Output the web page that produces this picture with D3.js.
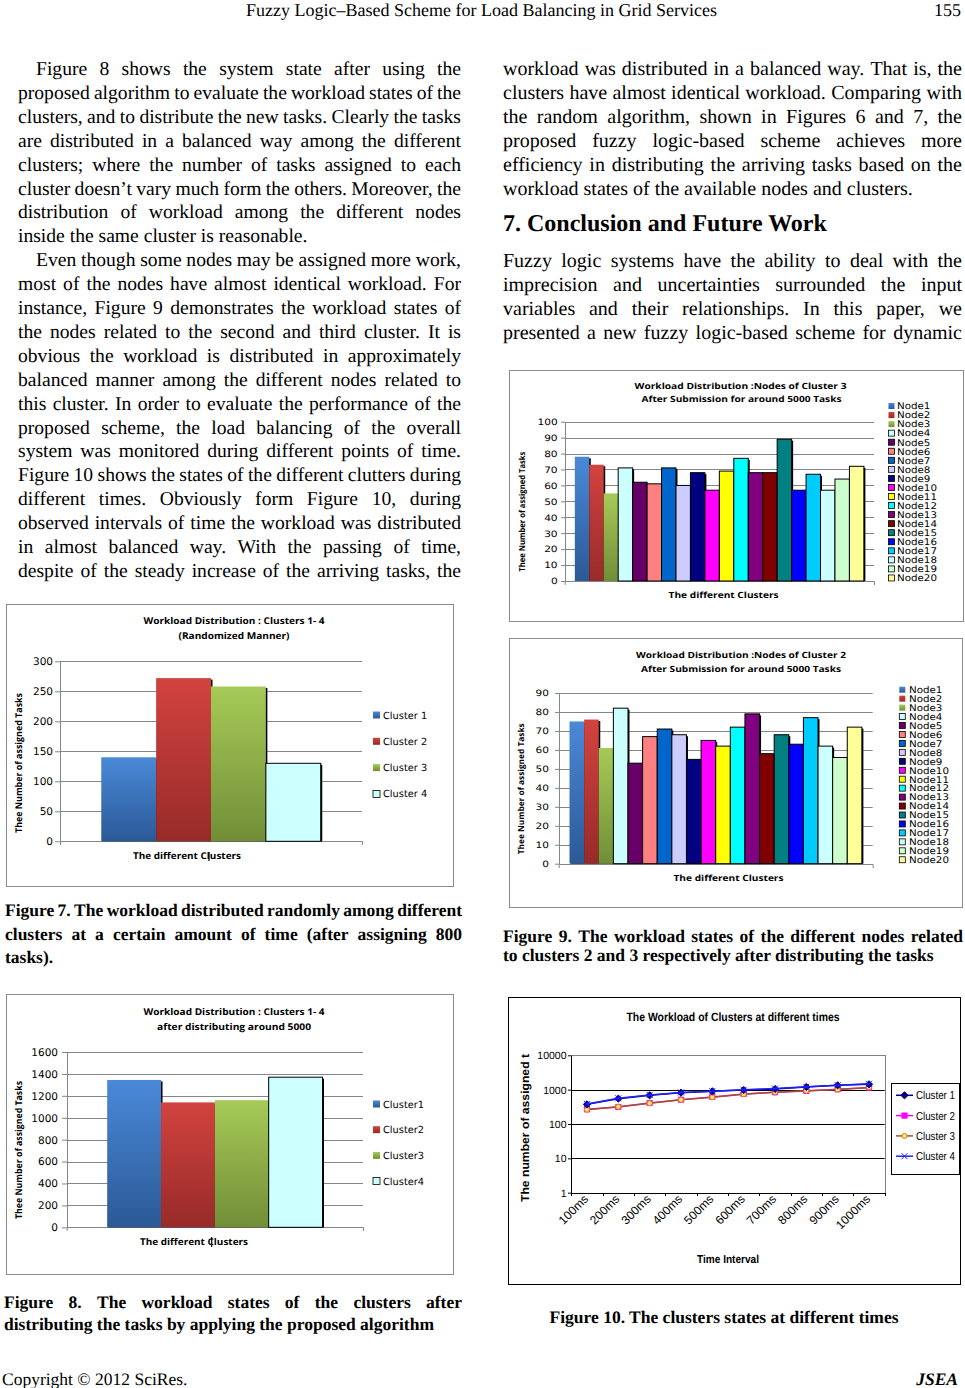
<!DOCTYPE html>
<html><head><meta charset="utf-8">
<script src="https://cdn.jsdelivr.net/npm/d3@7"></script>
<style>body{margin:0;background:#fff;} svg{display:block;}</style>
</head><body>
<script>
// ---------------- DATA ----------------
const fig7Series = ["Cluster 1", "Cluster 2", "Cluster 3", "Cluster 4"];
const fig7Values = [140, 272, 258, 130];
const fig7Ticks = [0, 50, 100, 150, 200, 250, 300];

const fig8Series = ["Cluster1", "Cluster2", "Cluster3", "Cluster4"];
const fig8Values = [1345, 1140, 1160, 1370];
const fig8Ticks = [0, 200, 400, 600, 800, 1000, 1200, 1400, 1600];

const nodeNames = ["Node1","Node2","Node3","Node4","Node5","Node6","Node7","Node8","Node9","Node10",
                   "Node11","Node12","Node13","Node14","Node15","Node16","Node17","Node18","Node19","Node20"];
const cluster3Values = [78, 73, 55, 71, 62, 61, 71, 60, 68, 57, 69, 77, 68, 68, 89, 57, 67, 57, 64, 72];
const cluster3Ticks = [0, 10, 20, 30, 40, 50, 60, 70, 80, 90, 100];
const cluster2Values = [75, 76, 61, 82, 53, 67, 71, 68, 55, 65, 62, 72, 79, 58, 68, 63, 77, 62, 56, 72];
const cluster2Ticks = [0, 10, 20, 30, 40, 50, 60, 70, 80, 90];

const timeLabels = ["100ms","200ms","300ms","400ms","500ms","600ms","700ms","800ms","900ms","1000ms"];
const timeSeries = ["Cluster 1", "Cluster 2", "Cluster 3", "Cluster 4"];
const timeCluster1 = [374, 547, 684, 818, 894, 977, 1045, 1196, 1337, 1430];
const timeCluster2 = [267, 313, 409, 511, 611, 748, 836, 915, 1022, 1143];
const timeCluster3 = [262, 318, 403, 505, 605, 740, 845, 925, 1010, 1160];
const timeCluster4 = [385, 560, 700, 830, 905, 990, 1075, 1215, 1350, 1480];
const logTicks = [1, 10, 100, 1000, 10000];

// ---------------- PAGE TEXT ----------------
const leftColumnLines = [
  {t:"Figure 8 shows the system state after using the", j:1, ind:1},
  {t:"proposed algorithm to evaluate the workload states of the", j:1},
  {t:"clusters, and to distribute the new tasks. Clearly the tasks", j:1},
  {t:"are distributed in a balanced way among the different", j:1},
  {t:"clusters; where the number of tasks assigned to each", j:1},
  {t:"cluster doesn’t vary much form the others. Moreover, the", j:1},
  {t:"distribution of workload among the different nodes", j:1},
  {t:"inside the same cluster is reasonable.", j:0},
  {t:"Even though some nodes may be assigned more work,", j:1, ind:1},
  {t:"most of the nodes have almost identical workload. For", j:1},
  {t:"instance, Figure 9 demonstrates the workload states of", j:1},
  {t:"the nodes related to the second and third cluster. It is", j:1},
  {t:"obvious the workload is distributed in approximately", j:1},
  {t:"balanced manner among the different nodes related to", j:1},
  {t:"this cluster. In order to evaluate the performance of the", j:1},
  {t:"proposed scheme, the load balancing of the overall", j:1},
  {t:"system was monitored during different points of time.", j:1},
  {t:"Figure 10 shows the states of the different clutters during", j:1},
  {t:"different times. Obviously form Figure 10, during", j:1},
  {t:"observed intervals of time the workload was distributed", j:1},
  {t:"in almost balanced way. With the passing of time,", j:1},
  {t:"despite of the steady increase of the arriving tasks, the", j:1}
];
const rightColumnLines1 = [
  {t:"workload was distributed in a balanced way. That is, the", j:1},
  {t:"clusters have almost identical workload. Comparing with", j:1},
  {t:"the random algorithm, shown in Figures 6 and 7, the", j:1},
  {t:"proposed fuzzy logic-based scheme achieves more", j:1},
  {t:"efficiency in distributing the arriving tasks based on the", j:1},
  {t:"workload states of the available nodes and clusters.", j:0}
];
const rightColumnLines2 = [
  {t:"Fuzzy logic systems have the ability to deal with the", j:1},
  {t:"imprecision and uncertainties surrounded the input", j:1},
  {t:"variables and their relationships. In this paper, we", j:1},
  {t:"presented a new fuzzy logic-based scheme for dynamic", j:1}
];
const fig7Caption = [
  {t:"Figure 7. The workload distributed randomly among different", j:1},
  {t:"clusters at a certain amount of time (after assigning 800", j:1},
  {t:"tasks).", j:0}
];
const fig8Caption = [
  {t:"Figure 8. The workload states of the clusters after", j:1},
  {t:"distributing the tasks by applying the proposed algorithm", j:0}
];
const fig9Caption = [
  {t:"Figure 9. The workload states of the different nodes related", j:1},
  {t:"to clusters 2 and 3 respectively after distributing the tasks", j:0}
];

// ---------------- SETUP ----------------
const SERIF = "'Liberation Serif','Times New Roman',serif";
const SANS = "'DejaVu Sans',Verdana,sans-serif";
const TITLE = "'Open Sans','DejaVu Sans',sans-serif";
const ARIAL = "'Liberation Sans',Arial,sans-serif";

const svg = d3.select("body").append("svg").attr("width", 965).attr("height", 1388)
  .style("text-rendering", "geometricPrecision");
svg.append("rect").attr("width", 965).attr("height", 1388).attr("fill", "#fff");

const defs = svg.append("defs");
function grad(id, c0, c1) {
  const g = defs.append("linearGradient").attr("id", id).attr("x1", 0).attr("y1", 0).attr("x2", 0).attr("y2", 1);
  g.append("stop").attr("offset", "0%").attr("stop-color", c0);
  g.append("stop").attr("offset", "100%").attr("stop-color", c1);
}
grad("gBlue", "#4a89d8", "#2b5996");
grad("gRed", "#d2433f", "#972b29");
grad("gGreen", "#a6ca57", "#718e37");

const meas = svg.append("text").attr("visibility", "hidden");
function textWidth(s, fam, size, weight, style) {
  meas.attr("font-family", fam).attr("font-size", size).attr("font-weight", weight || "normal")
      .attr("font-style", style || "normal").text(s);
  return meas.node().getComputedTextLength();
}

function label(g, s, x, y, o) {
  const t = g.append("text").attr("x", x).attr("y", y).text(s)
    .attr("font-family", o.family || SANS).attr("font-size", o.size)
    .attr("font-weight", o.weight || "normal").attr("font-style", o.style || "normal")
    .attr("text-anchor", o.anchor || "start").attr("fill", o.fill || "#000");
  if (o.len) t.attr("textLength", o.len).attr("lengthAdjust", "spacingAndGlyphs");
  if (o.rotate) t.attr("transform", `rotate(${o.rotate},${x},${y})`);
  return t;
}

function textBlock(lines, o) {
  const g = svg.append("g");
  lines.forEach((ln, i) => {
    const y = o.y0 + i * o.lh;
    const x0 = o.x + (ln.ind ? o.indent : 0);
    const width = o.w - (ln.ind ? o.indent : 0);
    const t = g.append("text").attr("y", y).attr("font-family", SERIF).attr("font-size", o.size)
      .attr("font-weight", o.weight || "normal").attr("fill", "#000");
    if (!ln.j) { t.attr("x", x0).text(ln.t); return; }
    const words = ln.t.split(" ");
    const ws = words.map(w => textWidth(w, SERIF, o.size, o.weight));
    const gap = (width - d3.sum(ws)) / (words.length - 1);
    let cx = x0;
    words.forEach((w, k) => { t.append("tspan").attr("x", cx).text(w); cx += ws[k] + gap; });
  });
}

// ---------------- PAGE TEXT DRAW ----------------
label(svg, "Fuzzy Logic–Based Scheme for Load Balancing in Grid Services", 481.5, 16, {family: SERIF, size: 18, anchor: "middle"});
label(svg, "155", 961, 16, {family: SERIF, size: 18, anchor: "end"});

textBlock(leftColumnLines, {x: 18, w: 443, y0: 75, lh: 23.9, size: 19.6, indent: 18});
textBlock(rightColumnLines1, {x: 503, w: 459, y0: 75, lh: 23.9, size: 20, indent: 18});
label(svg, "7. Conclusion and Future Work", 503, 231, {family: SERIF, size: 24, weight: "bold"});
textBlock(rightColumnLines2, {x: 503, w: 459, y0: 267, lh: 23.9, size: 20, indent: 18});

textBlock(fig7Caption, {x: 5, w: 457, y0: 916, lh: 23.5, size: 17.5, weight: "bold"});
textBlock(fig9Caption, {x: 503, w: 460, y0: 942, lh: 18.5, size: 17.5, weight: "bold"});
textBlock(fig8Caption, {x: 4, w: 458, y0: 1308, lh: 21.5, size: 17.5, weight: "bold"});
label(svg, "Figure 10. The clusters states at different times", 724, 1323, {family: SERIF, size: 17.5, weight: "bold", anchor: "middle"});

label(svg, "Copyright © 2012 SciRes.", 2, 1385, {family: SERIF, size: 17.5});
label(svg, "JSEA", 958, 1385, {family: SERIF, size: 17.5, weight: "bold", style: "italic", anchor: "end"});

// ---------------- BAR CHARTS ----------------
const nodePalette = ["url(#gBlue)","url(#gRed)","url(#gGreen)","#CCFFFF","#660066","#FF8080","#0066CC","#CCCCFF",
  "#000080","#FF00FF","#FFFF00","#00FFFF","#800080","#800000","#008080","#0000FF","#00CCFF","#CCFFFF","#CCFFCC","#FFFF99"];
const clusterPalette = ["url(#gBlue)","url(#gRed)","url(#gGreen)","#CCFFFF"];

function barChart(o) {
  const g = svg.append("g");
  g.append("rect").attr("x", o.box[0] + 0.5).attr("y", o.box[1] + 0.5)
    .attr("width", o.box[2] - o.box[0]).attr("height", o.box[3] - o.box[1])
    .attr("fill", "#fff").attr("stroke", "#8a8a8a");

  const y = d3.scaleLinear().domain([0, d3.max(o.ticks)]).range([o.plot.b, o.plot.t]);
  const xg = d3.scaleBand().domain(["group"]).range([o.plot.l, o.plot.r]).paddingInner(0).paddingOuter(o.outer);
  const xs = d3.scaleBand().domain(o.names).range([0, xg.bandwidth()]);

  g.append("g").selectAll("line").data(o.ticks.filter(d => d > 0)).join("line")
    .attr("x1", o.plot.l).attr("x2", o.plot.r)
    .attr("y1", d => Math.round(y(d)) + 0.5).attr("y2", d => Math.round(y(d)) + 0.5)
    .attr("stroke", "#868686");

  const ya = g.append("g").attr("transform", `translate(${Math.round(o.plot.l)},0)`)
    .call(d3.axisLeft(y).tickValues(o.ticks).tickFormat(d3.format("d")).tickSize(o.tickLen).tickSizeOuter(0)
      .tickPadding(o.plot.l - o.tickLen - o.labelRight));
  ya.select(".domain").attr("stroke", "#868686");
  ya.selectAll(".tick line").attr("stroke", "#868686");
  ya.selectAll(".tick text").attr("font-family", SANS).attr("font-size", o.tickFont).attr("fill", "#000")
    .each(function () {
      if (o.tickStretch !== 1) {
        const l = this.getComputedTextLength();
        d3.select(this).attr("textLength", l * o.tickStretch).attr("lengthAdjust", "spacingAndGlyphs");
      }
    });

  const xa = g.append("g").attr("transform", `translate(0,${Math.round(o.plot.b)})`)
    .call(d3.axisBottom(xg).tickValues([]).tickSizeOuter(4));
  xa.select(".domain").attr("stroke", "#868686");

  const bars = g.append("g").selectAll("g").data(o.values).join("g");
  bars.append("rect")
    .attr("x", (d, i) => xg("group") + xs(o.names[i]) + 1.5)
    .attr("y", d => y(d) + 1.5)
    .attr("width", xs.bandwidth())
    .attr("height", d => y(0) - y(d) - 1.5)
    .attr("fill", "#000");
  bars.append("rect")
    .attr("x", (d, i) => xg("group") + xs(o.names[i]))
    .attr("y", d => y(d))
    .attr("width", xs.bandwidth())
    .attr("height", d => y(0) - y(d))
    .attr("fill", (d, i) => o.palette[i])
    .attr("stroke", (d, i) => o.palette[i].startsWith("url") ? "none" : "#000")
    .attr("stroke-width", 1);

  o.title.forEach(t => label(g, t.text, t.x, t.y, {family: TITLE, size: o.titleSize, weight: "bold", anchor: "middle", len: t.len}));
  label(g, o.xTitle.text, o.xTitle.x, o.xTitle.y, {family: TITLE, size: o.xTitle.size, weight: "bold", anchor: "middle", len: o.xTitle.len});
  label(g, o.yTitle.text, o.yTitle.x, o.yTitle.y, {family: TITLE, size: o.yTitle.size, weight: "bold", anchor: "middle", len: o.yTitle.len, rotate: -90});
  if (o.mark) g.append("line").attr("x1", o.mark.x).attr("x2", o.mark.x).attr("y1", o.mark.y1).attr("y2", o.mark.y2).attr("stroke", "#000").attr("stroke-width", 1.2);

  const ly = d3.scaleLinear().domain([0, 1]).range([o.legend.y0, o.legend.y0 + o.legend.step]);
  const lg = g.append("g").selectAll("g").data(o.names).join("g")
    .attr("transform", (d, i) => `translate(0,${ly(i)})`);
  lg.append("rect").attr("x", o.legend.sqX).attr("y", -o.legend.sq / 2).attr("width", o.legend.sq).attr("height", o.legend.sq)
    .attr("fill", (d, i) => o.palette[i])
    .attr("stroke", (d, i) => o.palette[i].startsWith("url") ? "none" : "#000").attr("stroke-width", 0.8);
  lg.append("text").attr("x", o.legend.textX).attr("y", o.legend.size * 0.36)
    .attr("font-family", SANS).attr("font-size", o.legend.size).text(d => d)
    .each(function () {
      const l = this.getComputedTextLength();
      d3.select(this).attr("textLength", l * o.legend.stretch).attr("lengthAdjust", "spacingAndGlyphs");
    });
}

// Figure 7
barChart({
  box: [6, 604, 453, 886], plot: {l: 60, r: 362, t: 661.3, b: 841.3},
  ticks: fig7Ticks, values: fig7Values, names: fig7Series, palette: clusterPalette, outer: 0.188,
  tickLen: 5, labelRight: 53, tickFont: 10.5, tickStretch: 1,
  titleSize: 9.3,
  title: [{text: "Workload Distribution : Clusters 1- 4", x: 234, y: 623.5, len: 181},
          {text: "(Randomized Manner)", x: 234, y: 638.5, len: 111}],
  xTitle: {text: "The different Clusters", x: 187, y: 858.5, len: 108, size: 9.3},
  yTitle: {text: "Thee Number of assigned Tasks", x: 21.5, y: 763, len: 140, size: 9.3},
  mark: {x: 209, y1: 852, y2: 861},
  legend: {sqX: 373, sq: 7, textX: 383, y0: 715, step: 26.3, size: 9.8, stretch: 1.0}
});

// Figure 8
barChart({
  box: [6, 994, 453, 1274], plot: {l: 66.7, r: 363, t: 1052, b: 1227.3},
  ticks: fig8Ticks, values: fig8Values, names: fig8Series, palette: clusterPalette, outer: 0.188,
  tickLen: 5, labelRight: 57.7, tickFont: 10.5, tickStretch: 1,
  titleSize: 9.3,
  title: [{text: "Workload Distribution : Clusters 1- 4", x: 234, y: 1014.5, len: 181},
          {text: "after distributing  around 5000", x: 234, y: 1029.5, len: 154}],
  xTitle: {text: "The different Clusters", x: 194, y: 1245, len: 108, size: 9.3},
  yTitle: {text: "Thee Number of assigned Tasks", x: 21.5, y: 1150, len: 138, size: 9.3},
  mark: {x: 211.7, y1: 1237, y2: 1247},
  legend: {sqX: 373, sq: 7, textX: 383, y0: 1104, step: 25.7, size: 9.8, stretch: 1.0}
});

// Figure 9 - Cluster 3
barChart({
  box: [509, 370, 963, 621], plot: {l: 564.7, r: 874, t: 421.7, b: 581},
  ticks: cluster3Ticks, values: cluster3Values, names: nodeNames, palette: nodePalette, outer: 0.035,
  tickLen: 4, labelRight: 557.3, tickFont: 8.8, tickStretch: 1.2,
  titleSize: 8.5,
  title: [{text: "Workload Distribution :Nodes of Cluster 3", x: 740.5, y: 389, len: 212},
          {text: "After Submission for around 5000 Tasks", x: 741.5, y: 402, len: 200}],
  xTitle: {text: "The different Clusters", x: 723.6, y: 597.5, len: 110, size: 8.5},
  yTitle: {text: "Thee Number of assigned Tasks", x: 525, y: 511.7, len: 120, size: 8.3},
  legend: {sqX: 888.5, sq: 6, textX: 897, y0: 406, step: 9.05, size: 9.2, stretch: 1.12}
});

// Figure 9 - Cluster 2
barChart({
  box: [509, 638, 962, 907], plot: {l: 558.7, r: 872.7, t: 693, b: 863.7},
  ticks: cluster2Ticks, values: cluster2Values, names: nodeNames, palette: nodePalette, outer: 0.037,
  tickLen: 4, labelRight: 548.7, tickFont: 8.8, tickStretch: 1.2,
  titleSize: 8.5,
  title: [{text: "Workload Distribution :Nodes of Cluster 2", x: 741, y: 657.7, len: 210},
          {text: "After Submission for around 5000 Tasks", x: 741, y: 672, len: 200}],
  xTitle: {text: "The different Clusters", x: 728.5, y: 880.5, len: 110, size: 8.5},
  yTitle: {text: "Thee Number of assigned Tasks", x: 524.3, y: 788.8, len: 131, size: 8.3},
  legend: {sqX: 899.3, sq: 6, textX: 909, y0: 689.7, step: 8.95, size: 9.2, stretch: 1.12}
});

// ---------------- FIGURE 10 (line chart, log scale) ----------------
(function () {
  const g = svg.append("g");
  g.append("rect").attr("x", 508.5).attr("y", 997.5).attr("width", 452).attr("height", 287)
    .attr("fill", "#fff").attr("stroke", "#000");
  const P = {l: 571.3, r: 884.7, t: 1055.3, b: 1192.7};
  const x = d3.scaleBand().domain(timeLabels).range([P.l, P.r]);
  const y = d3.scaleLog().domain([1, 10000]).range([P.b, P.t]);

  g.append("rect").attr("x", Math.round(P.l) + 0.5).attr("y", Math.round(P.t) + 0.5)
    .attr("width", Math.round(P.r) - Math.round(P.l)).attr("height", Math.round(P.b) - Math.round(P.t))
    .attr("fill", "#fff").attr("stroke", "#808080");
  g.append("g").selectAll("line").data([10, 100, 1000]).join("line")
    .attr("x1", P.l).attr("x2", P.r)
    .attr("y1", d => Math.round(y(d)) + 0.5).attr("y2", d => Math.round(y(d)) + 0.5)
    .attr("stroke", "#000");

  const ya = g.append("g").attr("transform", `translate(${Math.round(P.l)},0)`)
    .call(d3.axisLeft(y).tickValues(logTicks).tickFormat(d3.format("d")).tickSize(3).tickSizeOuter(0).tickPadding(1.5));
  ya.select(".domain").attr("stroke", "#000");
  ya.selectAll(".tick line").attr("stroke", "#000");
  ya.selectAll(".tick text").attr("font-family", ARIAL).attr("font-size", 10.5).attr("fill", "#000");

  const xa = g.append("g").attr("transform", `translate(0,${Math.round(P.b)})`)
    .call(d3.axisBottom(x).tickSize(0).tickSizeOuter(0).tickFormat(""));
  xa.select(".domain").attr("stroke", "#000");
  const bounds = x.domain().map(d => x(d)).concat([x.range()[1]]);
  g.append("g").selectAll("line").data(bounds).join("line")
    .attr("x1", d => Math.round(d) + 0.5).attr("x2", d => Math.round(d) + 0.5)
    .attr("y1", Math.round(P.b)).attr("y2", Math.round(P.b) + 3).attr("stroke", "#000");
  g.append("g").selectAll("text").data(timeLabels).join("text")
    .attr("x", d => x(d) + x.bandwidth() / 2 + 2)
    .attr("y", P.b + 7)
    .attr("transform", d => `rotate(-45,${x(d) + x.bandwidth() / 2 + 2},${P.b + 7})`)
    .attr("text-anchor", "end").attr("font-family", ARIAL).attr("font-size", 12).text(d => d);

  const cx = (d, i) => x(timeLabels[i]) + x.bandwidth() / 2;
  const line = d3.line().x(cx).y(d => y(d));
  const styles = [
    {data: timeCluster2, stroke: "#FF00FF", marker: "square", mfill: "#FF00FF", mstroke: "#FF00FF"},
    {data: timeCluster3, stroke: "#A0522D", marker: "circle", mfill: "#FFE680", mstroke: "#D98000"},
    {data: timeCluster1, stroke: "#000080", marker: "diamond", mfill: "#000080", mstroke: "#000080"},
    {data: timeCluster4, stroke: "#2020FF", marker: "x", mfill: "none", mstroke: "#2020FF"}
  ];
  function markerPath(type) {
    if (type === "diamond") return "M0,-3.6L3.6,0L0,3.6L-3.6,0Z";
    if (type === "square") return "M-2.6,-2.6H2.6V2.6H-2.6Z";
    if (type === "circle") return "M2.5,0A2.5,2.5 0 1 1 -2.5,0A2.5,2.5 0 1 1 2.5,0Z";
    return "M-3,-3L3,3M-3,3L3,-3";
  }
  styles.forEach(s => {
    g.append("path").datum(s.data).attr("d", line).attr("fill", "none").attr("stroke", s.stroke).attr("stroke-width", 1.5);
    g.append("g").selectAll("path").data(s.data).join("path")
      .attr("transform", (d, i) => `translate(${cx(d, i)},${y(d)})`)
      .attr("d", markerPath(s.marker)).attr("fill", s.mfill).attr("stroke", s.mstroke).attr("stroke-width", 1);
  });

  label(g, "The Workload of Clusters at different times", 733, 1020.5, {family: ARIAL, size: 12, weight: "bold", anchor: "middle", len: 213});
  label(g, "The number of assigned t", 529, 1128, {family: ARIAL, size: 11.5, weight: "bold", anchor: "middle", len: 148, rotate: -90});
  label(g, "Time Interval", 728, 1263, {family: ARIAL, size: 11.5, weight: "bold", anchor: "middle", len: 62});

  // legend
  g.append("rect").attr("x", 891.5).attr("y", 1083.5).attr("width", 68).attr("height", 91)
    .attr("fill", "#fff").attr("stroke", "#000");
  const order = [2, 0, 1, 3]; // styles index for Cluster 1..4
  const ly = d3.scaleLinear().domain([0, 1]).range([1095.3, 1115.6]);
  timeSeries.forEach((name, i) => {
    const s = styles[order[i]];
    const yy = ly(i);
    g.append("line").attr("x1", 896).attr("x2", 913).attr("y1", yy).attr("y2", yy).attr("stroke", s.stroke).attr("stroke-width", 1.5);
    g.append("path").attr("transform", `translate(904.5,${yy})`).attr("d", markerPath(s.marker))
      .attr("fill", s.mfill).attr("stroke", s.mstroke);
    label(g, name, 916, yy + 4, {family: ARIAL, size: 11.5, len: 39});
  });
})();
</script>
</body></html>
